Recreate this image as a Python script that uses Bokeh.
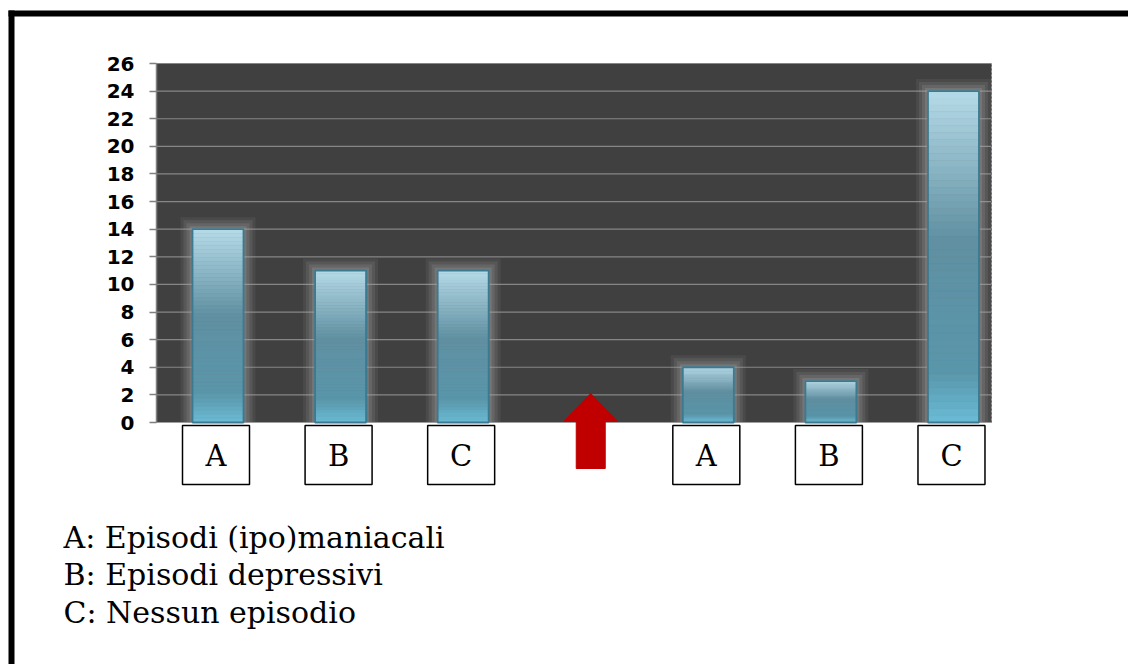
from bokeh.plotting import figure
from bokeh.models import (ColumnDataSource, LinearAxis, FixedTicker, Range1d, Label)
from bokeh.embed import file_html
from bokeh.resources import INLINE

# ---- data -------------------------------------------------------------
groups = ["A", "B", "C", "", "A", "B", "C"]
values = [14, 11, 11, None, 4, 3, 24]
y_ticks = list(range(0, 27, 2))
legend_lines = ["A: Episodi (ipo)maniacali",
                "B: Episodi depressivi",
                "C: Nessun episodio"]

# ---- canvas geometry (pixels) ------------------------------------------
W, H = 1128, 664
PX_X = 122.58            # pixels per category slot
PX_Y = 359.0 / 26.0      # pixels per unit of value
X0_PX = 217.5            # pixel position of the first slot
Y0_PX = 422.0            # pixel position of value 0 (from top)

x_start = 1 - X0_PX / PX_X
x_end = x_start + W / PX_X
y_start = -(H - Y0_PX) / PX_Y
y_end = y_start + H / PX_Y


def dx(px):
    return px / PX_X


def dy(px):
    return px / PX_Y


def xd(px):
    return x_start + px / PX_X


def yd(px):
    return y_start + (H - px) / PX_Y


p = figure(width=W, height=H, x_range=Range1d(x_start, x_end),
           y_range=Range1d(y_start, y_end), x_axis_type=None,
           y_axis_type=None, toolbar_location=None, output_backend="svg",
           min_border=0, outline_line_color=None,
           background_fill_color="white", border_fill_color="white")
p.xgrid.visible = False
p.ygrid.visible = False

# page frame lines (top and left)
p.quad(left=[xd(8), xd(8)], right=[xd(W + 2), xd(14)],
       top=[yd(10), yd(10)], bottom=[yd(16), yd(H + 2)],
       fill_color="black", line_color=None)

# dark plotting panel
x_left = xd(156)
x_right = xd(991)
p.quad(left=[x_left], right=[x_right], bottom=[0], top=[y_ticks[-1]],
       fill_color="#404040", line_color=None)
grid_src = ColumnDataSource(dict(x0=[x_left] * (len(y_ticks) - 1),
                                 x1=[x_right] * (len(y_ticks) - 1),
                                 y=y_ticks[1:]))
p.segment(x0="x0", y0="y", x1="x1", y1="y", source=grid_src,
          line_color="#868686", line_width=1.2)
p.segment(x0=[x_right], y0=[0], x1=[x_right], y1=[y_ticks[-1]],
          line_color="#6a6a6a", line_width=1, line_dash="2 2")

# bars
xs = [i + 1 for i, v in enumerate(values) if v is not None]
vs = [v for v in values if v is not None]
half = 0.5 * dx(51)

# soft halo around each bar
for grow, alpha in [(12, 0.10), (9, 0.14), (6, 0.18), (3, 0.26)]:
    p.quad(left=[x - half - dx(grow) for x in xs],
           right=[x + half + dx(grow) for x in xs],
           bottom=[0] * len(xs), top=[v + dy(grow) for v in vs],
           fill_color="#a8a8a8", fill_alpha=alpha, line_color=None)

# vertical colour ramp of each bar, split into thin strips
stops = [(0.0, (182, 219, 232)), (0.45, (96, 144, 162)),
         (0.85, (89, 150, 171)), (1.0, (106, 188, 214))]


def ramp(t):
    for (t0, c0), (t1, c1) in zip(stops[:-1], stops[1:]):
        if t <= t1:
            f = (t - t0) / (t1 - t0)
            return "#%02x%02x%02x" % tuple(
                int(round(a + (b - a) * f)) for a, b in zip(c0, c1))
    return "#%02x%02x%02x" % stops[-1][1]


N = 48
sl, sr, sb, st, sc = [], [], [], [], []
for x, v in zip(xs, vs):
    for k in range(N):
        sl.append(x - half)
        sr.append(x + half)
        st.append(v * (1 - k / N))
        sb.append(v * (1 - (k + 1) / N))
        sc.append(ramp((k + 0.5) / N))
p.quad(left="l", right="r", bottom="b", top="t", fill_color="c",
       line_color="c", line_width=0.5,
       source=ColumnDataSource(dict(l=sl, r=sr, b=sb, t=st, c=sc)))
p.quad(left=[x - half for x in xs], right=[x + half for x in xs],
       bottom=[0] * len(xs), top=vs, fill_color=None,
       line_color="#3b7a90", line_width=1.8)

# y axis
yax = LinearAxis(fixed_location=x_left, bounds=(0, y_ticks[-1]),
                 ticker=FixedTicker(ticks=y_ticks))
yax.axis_line_color = "#7f7f7f"
yax.axis_line_width = 1.5
yax.major_tick_line_color = "#7f7f7f"
yax.major_tick_line_width = 1.5
yax.major_tick_out = 7
yax.major_tick_in = 0
yax.minor_tick_line_color = None
yax.major_label_standoff = 15
yax.major_label_text_font = "DejaVu Sans"
yax.major_label_text_font_style = "bold"
yax.major_label_text_font_size = "20px"
yax.major_label_text_color = "black"
p.add_layout(yax, "left")

# category boxes under the panel
box_x = [i + 1 for i, g in enumerate(groups) if g]
box_t = [g for g in groups if g]
box_cx = [x - dx(2) for x in box_x]
p.rect(x=box_cx, y=[(yd(425) + yd(484)) / 2] * len(box_x),
       width=dx(67), height=dy(59), fill_color="white",
       line_color="black", line_width=1.5)
p.text(x=box_cx, y=[yd(455)] * len(box_x), text=box_t,
       text_align="center", text_baseline="middle",
       text_font={"value": "DejaVu Serif"}, text_font_size="29px",
       text_color="black")

# red arrow in the empty slot
ax = groups.index("") + 1 + dx(5)
hx, sx = dx(27), dx(14.5)
p.patch(x=[ax, ax + hx, ax + sx, ax + sx, ax - sx, ax - sx, ax - hx],
        y=[yd(393), yd(421), yd(421), yd(468), yd(468), yd(421), yd(421)],
        fill_color="#c00000", line_color="#c00000", line_width=1)

# legend text
for i, line in enumerate(legend_lines):
    p.add_layout(Label(x=63, y=H - (537 + 37.3 * i), x_units="screen",
                       y_units="screen", text=line,
                       text_font="DejaVu Serif", text_font_size="30px",
                       text_baseline="middle", text_color="black"))

open("out.html", "w").write(file_html(p, INLINE))
